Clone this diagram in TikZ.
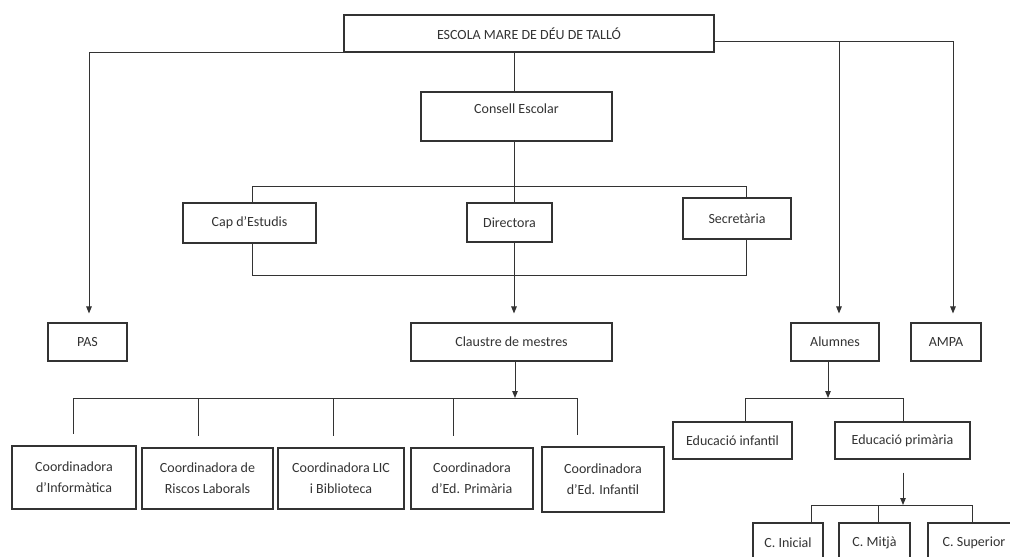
\documentclass[tikz,border=0pt]{standalone}
\usepackage{fontspec}
\setmainfont{Carlito}
\usetikzlibrary{arrows.meta,calc}
\begin{document}
\begin{tikzpicture}[x=1pt,y=-1pt,
  box/.style={draw=black!80, line width=1.1pt, fill=white, inner sep=0pt, align=center, text=black!80, font=\fontsize{14}{21}\selectfont},
  con/.style={draw=black!80, line width=1pt},
  arr/.style={con, -{Triangle[length=7pt,width=5.5pt]}},
]
\useasboundingbox (0,0) rectangle (1010,557);
\clip (0,0) rectangle (1010,557);
\fill[white] (0,0) rectangle (1010,557);

% nodes
\node[box, minimum width=370pt, minimum height=37pt] (top) at (529,33.5) {ESCOLA MARE DE DÉU DE TALLÓ};
\node[box, minimum width=191pt, minimum height=49pt, text height=10pt, text depth=16pt] (consell) at (516.5,116.5) {Consell Escolar};
\node[box, minimum width=133pt, minimum height=40pt] (cap) at (249.5,223) {Cap d'Estudis};
\node[box, minimum width=85pt, minimum height=39pt] (dir) at (509.5,222.5) {Directora};
\node[box, minimum width=108pt, minimum height=41pt] (sec) at (737,218.5) {Secretària};
\node[box, minimum width=79pt, minimum height=38pt] (pas) at (87.5,342) {PAS};
\node[box, minimum width=201pt, minimum height=38pt] (claustre) at (511.5,342) {Claustre de mestres};
\node[box, minimum width=88pt, minimum height=38pt] (alumnes) at (835,342) {Alumnes};
\node[box, minimum width=70pt, minimum height=38pt] (ampa) at (946,342) {AMPA};
\node[box, minimum width=124pt, minimum height=63pt] (c1) at (74,477.5) {Coordinadora\\d'Informàtica};
\node[box, minimum width=131pt, minimum height=61pt] (c2) at (207.5,478.5) {Coordinadora de\\Riscos Laborals};
\node[box, minimum width=126pt, minimum height=61pt] (c3) at (341,478.5) {Coordinadora LIC\\i Biblioteca};
\node[box, minimum width=122pt, minimum height=61pt] (c4) at (472,478.5) {Coordinadora\\d'Ed. Primària};
\node[box, minimum width=122pt, minimum height=65pt] (c5) at (603,479.5) {Coordinadora\\d'Ed. Infantil};
\node[box, minimum width=119pt, minimum height=37pt] (einf) at (732.5,440.5) {Educació infantil};
\node[box, minimum width=135pt, minimum height=37pt] (eprim) at (902.5,440.5) {Educació primària};
\node[box, minimum width=70pt, minimum height=40pt] (ci) at (788,543) {C. Inicial};
\node[box, minimum width=71pt, minimum height=40pt] (cm) at (874.5,543) {C. Mitjà};
\node[box, minimum width=92pt, minimum height=40pt] (cs) at (974,543) {C. Superior};

% reference coordinates
\coordinate (xc) at (514,0);
\coordinate (xp) at (89,0);
\coordinate (xl) at (252,0);
\coordinate (xr) at (746,0);
\coordinate (yt) at (0,186);
\coordinate (yb) at (0,275);
\coordinate (tr) at ($(top.north east)!0.7!(top.south east)$);
\coordinate (xal) at (839,0);
\coordinate (xam) at (953,0);
\coordinate (xcl) at (515,0);
\coordinate (ycb) at (0,398);
\coordinate (d1) at (73,0);
\coordinate (d2) at (198,0);
\coordinate (d3) at (333,0);
\coordinate (d4) at (453,0);
\coordinate (d5) at (577,0);
\coordinate (xa2) at (828,0);
\coordinate (xe1) at (745,0);
\coordinate (xe2) at (903,0);
\coordinate (yc) at (0,505);
\coordinate (xc1) at (811,0);
\coordinate (xc2) at (878,0);
\coordinate (xc3) at (972,0);

% connectors
\draw[con] (top.south -| xc) -- (consell.north -| xc);
\draw[con] (consell.south -| xc) -- (dir.north -| xc);
\draw[arr, shorten >=9pt] (dir.south -| xc) -- (claustre.north -| xc);
\draw[con] (cap.north -| xl) |- (yt -| xr) -- (sec.north -| xr);
\draw[con] (cap.south -| xl) |- (yb -| xr) -- (sec.south -| xr);
\draw[arr, shorten >=9pt] (top.south west) -| (pas.north -| xp);
\draw[arr, shorten >=9pt] (tr) -| (ampa.north -| xam);
\draw[arr, shorten >=9pt] (tr -| xal) -- (alumnes.north -| xal);
\draw[arr] (claustre.south -| xcl) -- (ycb -| xcl);
\draw[con] (ycb -| d1) -- (ycb -| d5);
\foreach \d/\n in {d1/c1,d2/c2,d3/c3,d4/c4,d5/c5}
  \draw[con, shorten >=11pt] (ycb -| \d) -- (\n.north -| \d);
\draw[arr] (alumnes.south -| xa2) -- (ycb -| xa2);
\draw[con] (einf.north -| xe1) |- (ycb -| xe2) -- (eprim.north -| xe2);
\draw[arr, shorten <=13pt] (eprim.south -| xe2) -- (yc -| xe2);
\draw[con] (ci.north -| xc1) |- (yc -| xc3) -- (cs.north -| xc3);
\draw[con] (yc -| xc2) -- (cm.north -| xc2);
\end{tikzpicture}
\end{document}
